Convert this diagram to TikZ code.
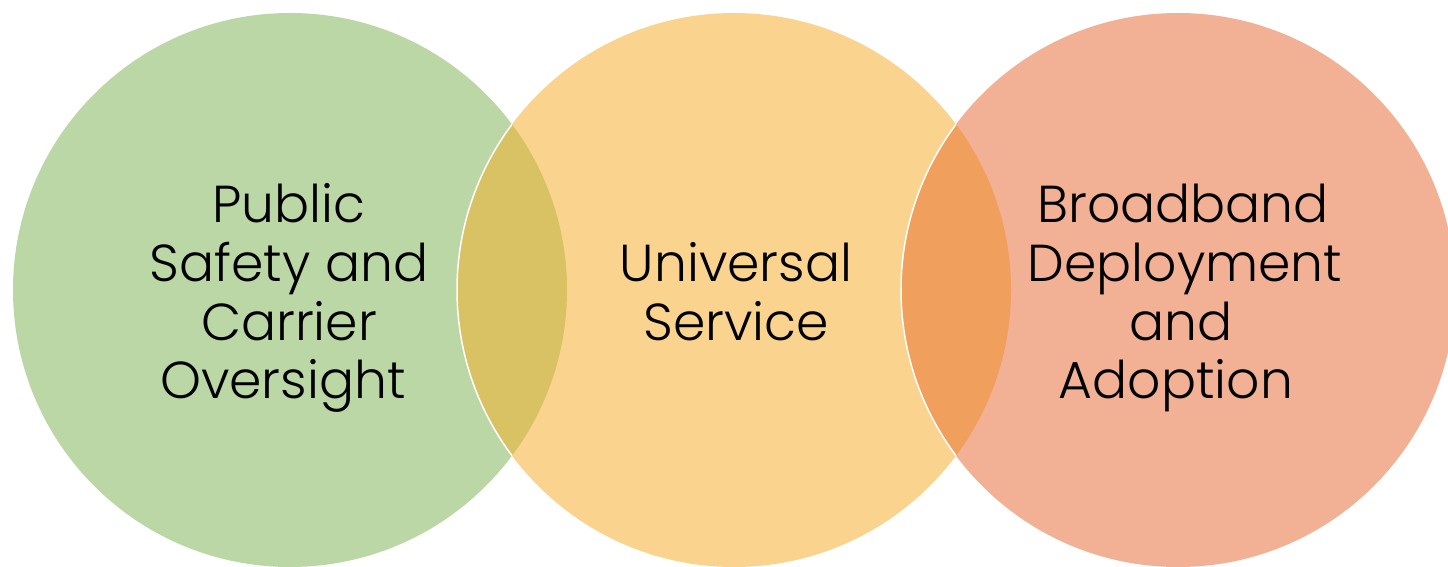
\documentclass[tikz,border=0pt]{standalone}
\usepackage{fontspec}
\setmainfont{Poppins}[UprightFont=* Light]
\definecolor{cgreen}{HTML}{BBD7A5}
\definecolor{cyellow}{HTML}{FAD48F}
\definecolor{csalmon}{HTML}{F2B194}
\definecolor{lensGY}{HTML}{D8C264}
\definecolor{lensYS}{HTML}{F09F5C}
\tikzset{
  venn/.style={line width=1.5pt, draw=white},
  lbl/.style={anchor=base, inner sep=0pt, font=\fontsize{52}{58}\selectfont, text=black}
}
\begin{document}
\begin{tikzpicture}[x=1pt,y=-1pt]
\useasboundingbox (0,0) rectangle (1448,567);
\fill[white] (0,0) rectangle (1448,567);
% circles
\fill[cgreen] (290,290) circle[radius=277];
\fill[cyellow] (734,290) circle[radius=277];
\begin{scope}
  \clip (290,290) circle[radius=277];
  \fill[lensGY] (734,290) circle[radius=277];
  \draw[venn] (734,290) circle[radius=277];
\end{scope}
\fill[csalmon] (1178,290) circle[radius=277];
\begin{scope}
  \clip (734,290) circle[radius=277];
  \fill[lensYS] (1178,290) circle[radius=277];
  \draw[venn] (1178,290) circle[radius=277];
\end{scope}
% labels
\node[lbl] (l1) at (289,222) {Public};
\node[lbl] (l2) at (289,281) {Safety and};
\node[lbl] (l3) at (289,340) {Carrier};
\node[lbl] (l4) at (283,398) {Oversight};
\node[lbl] (m1) at (736,281) {Universal};
\node[lbl] (m2) at (736,340) {Service};
\node[lbl] (r1) at (1183,222) {Broadband};
\node[lbl] (r2) at (1185,281) {Deployment};
\node[lbl] (r3) at (1181,340) {and};
\node[lbl] (r4) at (1176,398) {Adoption};
\end{tikzpicture}
\end{document}
